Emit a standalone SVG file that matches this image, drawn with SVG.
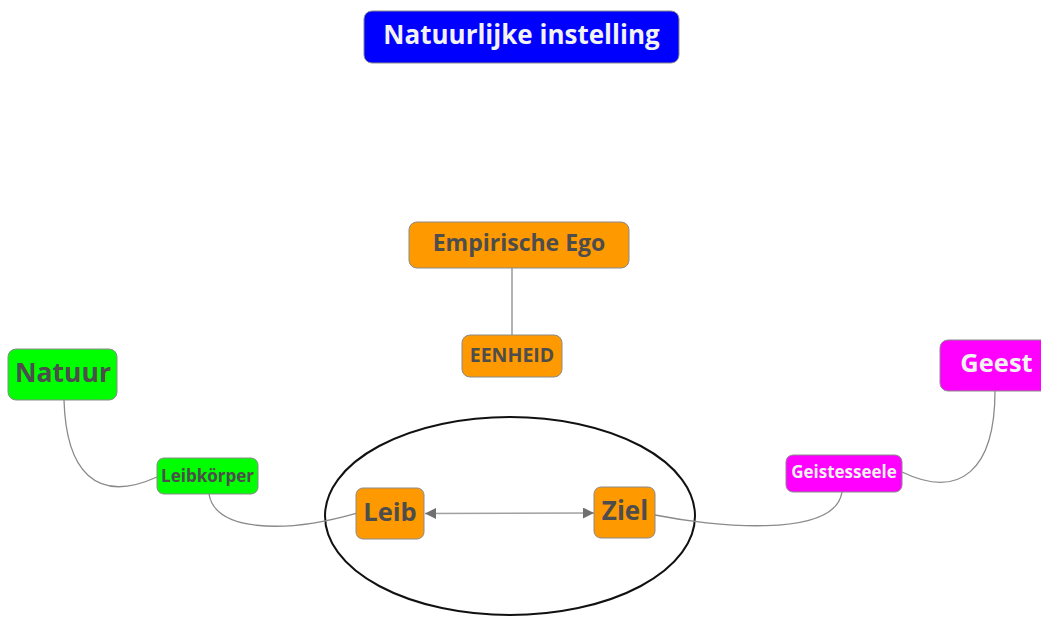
<svg xmlns="http://www.w3.org/2000/svg" width="1041" height="617" viewBox="0 0 1041 617">
<style>
.box{stroke:#8a8a8a;stroke-width:1}
.t{font-family:"Open Sans","Noto Sans","DejaVu Sans",sans-serif;font-weight:bold;text-anchor:middle;fill:#4d4d4d}
.w{fill:#f2f2f2}
.c{fill:none;stroke:#8a8a8a;stroke-width:1.3}
</style>
<defs>
<marker id="ah" viewBox="0 0 10 10" refX="10" refY="5" markerWidth="11" markerHeight="11" markerUnits="userSpaceOnUse" orient="auto-start-reverse">
<path d="M0,0 L10,5 L0,10 z" fill="#707070"/>
</marker>
</defs>
<rect width="1041" height="617" fill="#ffffff"/>
<ellipse cx="510" cy="516" rx="185" ry="99" fill="none" stroke="#111" stroke-width="2"/>
<g id="connectors">
<path class="c" d="M512,268 L512,335" stroke="#555"/>
<path class="c" d="M64,400 C66,470 95,505 157,477"/>
<path class="c" d="M209,494 C215,530 280,535 357,513"/>
<path class="c" d="M655,515 C710,526 835,540 842,492"/>
<path class="c" d="M995,391 C995,470 960,500 902,472"/>
<path d="M425,513.5 L594,513" fill="none" stroke="#a0a0a0" stroke-width="1.3" marker-start="url(#ah)" marker-end="url(#ah)"/>
</g>
<g id="title">
<rect class="box" x="364" y="11" width="315" height="52" rx="8" fill="#0000ff"/>
<text class="t w" x="521.5" y="44" font-size="26">Natuurlijke instelling</text>
</g>
<g id="empirische-ego">
<rect class="box" x="409" y="222" width="220" height="46" rx="8" fill="#ff9900"/>
<text class="t" x="519" y="251" font-size="23">Empirische Ego</text>
</g>
<g id="eenheid">
<rect class="box" x="462" y="335" width="100" height="42" rx="8" fill="#ff9900"/>
<text class="t" x="512" y="362" font-size="19.5">EENHEID</text>
</g>
<g id="natuur">
<rect class="box" x="8" y="349" width="109" height="51" rx="8" fill="#00ff00"/>
<text class="t" x="63" y="382" font-size="26.5">Natuur</text>
</g>
<g id="leibkorper">
<rect class="box" x="157" y="458" width="101" height="36" rx="7" fill="#00ff00"/>
<text class="t" x="207.5" y="481.5" font-size="17">Leibkörper</text>
</g>
<g id="leib">
<rect class="box" x="356" y="488" width="68" height="51" rx="7" fill="#ff9900"/>
<text class="t" x="390" y="520.5" font-size="25.5">Leib</text>
</g>
<g id="ziel">
<rect class="box" x="594" y="487" width="61" height="51" rx="7" fill="#ff9900"/>
<text class="t" x="625" y="520" font-size="26">Ziel</text>
</g>
<g id="geistesseele">
<rect class="box" x="786" y="455" width="116" height="37" rx="7" fill="#ff00ff"/>
<text class="t w" x="844" y="478" font-size="17">Geistesseele</text>
</g>
<g id="geest">
<rect class="box" x="940" y="340" width="114" height="51" rx="8" fill="#ff00ff"/>
<text class="t w" x="996.5" y="372" font-size="25.5">Geest</text>
</g>
</svg>
